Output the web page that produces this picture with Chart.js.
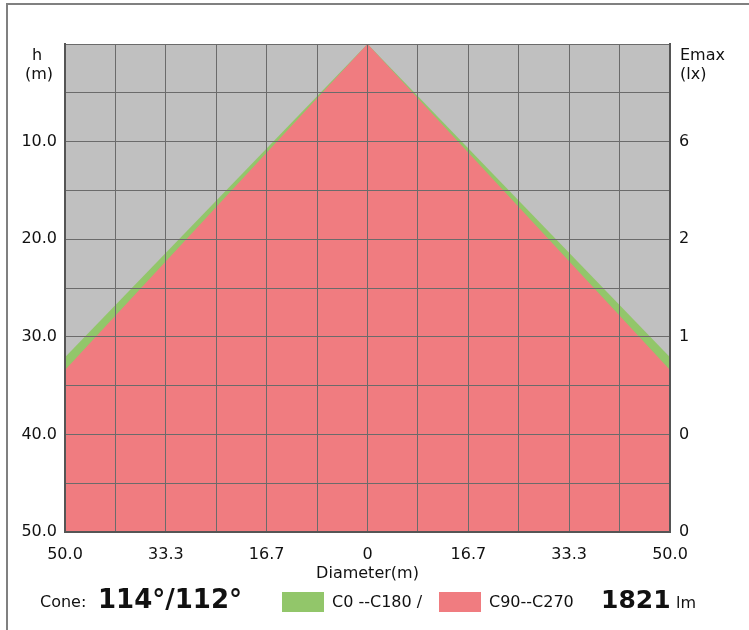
<!DOCTYPE html>
<html>
<head>
<meta charset="utf-8">
<script src="https://cdn.jsdelivr.net/npm/chart.js@4.4.0/dist/chart.umd.min.js"></script>
<style>
  html, body { margin: 0; padding: 0; background: #fff; overflow: hidden; }
  #wrap { position: relative; width: 749px; height: 630px; font-family: "DejaVu Sans", Verdana, sans-serif; color: #111; }
  #frame { position: absolute; left: 6px; top: 3px; width: 800px; height: 700px; border-left: 2px solid #808080; border-top: 2px solid #808080; }
  canvas { position: absolute; left: 0; top: 0; }
  .lg { position: absolute; white-space: nowrap; }
  .box { position: absolute; width: 42px; height: 20px; }
</style>
</head>
<body>
<div id="wrap">
  <div id="frame"></div>
  <canvas id="cone" width="749" height="630"></canvas>
  <span class="lg" style="left:40px; top:592px; font-size:16px; line-height:20px;">Cone:</span>
  <span class="lg" style="left:98px; top:584px; font-size:26px; line-height:30px; font-weight:bold;">114°/112°</span>
  <div class="box" style="left:282px; top:592px; background:#92c66a;"></div>
  <span class="lg" style="left:332px; top:592px; font-size:16px; line-height:20px;">C0 --C180 /</span>
  <div class="box" style="left:439px; top:592px; background:#f07c80;"></div>
  <span class="lg" style="left:489px; top:592px; font-size:16px; line-height:20px;">C90--C270</span>
  <span class="lg" style="left:601px; top:585px; font-size:25px; line-height:30px; font-weight:bold;">1821</span>
  <span class="lg" style="left:676px; top:593px; font-size:16px; line-height:20px;">lm</span>
</div>
<script>
// cone outline: half diameter (m) vs mounting height (m)
const diameterX = [-50, 0, 50];
const heightC0 = [32.1, 0, 32.1];
const heightC90 = [33.4, 0, 33.4];
const xTickLabels = ["50.0", "33.3", "16.7", "0", "16.7", "33.3", "50.0"];
const hTicks = [10, 20, 30, 40, 50];
const emaxLabels = ["6", "2", "1", "0", "0"];

const gridColor = "#6b6b6b";
const tickFont = { family: "DejaVu Sans", size: 16 };

function toPoints(ys) {
    return diameterX.map((x, i) => ({ x: x, y: ys[i] }));
}

const plotBackground = {
    id: "plotBackground",
    beforeDraw(chart) {
        const a = chart.chartArea;
        const c = chart.ctx;
        c.save();
        c.fillStyle = "#c0c0c0";
        c.fillRect(a.left, a.top, a.right - a.left, a.bottom - a.top);
        c.restore();
    }
};

const axisTexts = {
    id: "axisTexts",
    afterDraw(chart) {
        const a = chart.chartArea;
        const c = chart.ctx;
        c.save();
        c.fillStyle = "#111";
        c.font = "16px 'DejaVu Sans'";
        c.textBaseline = "middle";
        c.textAlign = "center";
        c.fillText("h", 37, 56);
        c.fillText("(m)", 39, 75);
        c.textAlign = "left";
        c.fillText("Emax", a.right + 10, 56);
        c.fillText("(lx)", a.right + 10, 75);
        c.textAlign = "center";
        c.fillText("Diameter(m)", (a.left + a.right) / 2, 574);
        c.restore();
    }
};

new Chart(document.getElementById("cone"), {
    type: "line",
    data: {
        datasets: [
            {
                label: "C90--C270",
                data: toPoints(heightC90),
                borderWidth: 0,
                pointRadius: 0,
                backgroundColor: "#f07c80",
                fill: { value: 50 },
                tension: 0
            },
            {
                label: "C0 --C180",
                data: toPoints(heightC0),
                borderWidth: 0,
                pointRadius: 0,
                backgroundColor: "#92c66a",
                fill: { value: 50 },
                tension: 0
            }
        ]
    },
    options: {
        responsive: false,
        animation: false,
        layout: { padding: { left: 0, right: 0, top: 44, bottom: 0 } },
        plugins: { legend: { display: false }, tooltip: { enabled: false } },
        scales: {
            x: {
                type: "linear",
                min: -50,
                max: 50,
                afterBuildTicks(scale) {
                    const t = [];
                    for (let i = 0; i <= 12; i++) t.push({ value: -50 + i * 100 / 12 });
                    scale.ticks = t;
                },
                afterFit(scale) { scale.height = 98; },
                grid: { color: gridColor, lineWidth: 1, drawTicks: false, z: 1 },
                border: { color: "#555", width: 2, z: 2 },
                ticks: {
                    autoSkip: false,
                    maxRotation: 0,
                    padding: 13,
                    color: "#111",
                    font: tickFont,
                    callback: (v, i) => (i % 2 === 0 ? xTickLabels[i / 2] : "")
                }
            },
            y: {
                type: "linear",
                position: "left",
                reverse: true,
                min: 0,
                max: 50,
                afterBuildTicks(scale) {
                    const t = [];
                    for (let v = 0; v <= 50; v += 5) t.push({ value: v });
                    scale.ticks = t;
                },
                afterFit(scale) { scale.width = 65; },
                grid: { color: gridColor, lineWidth: 1, drawTicks: false, z: 1 },
                border: { color: "#555", width: 2, z: 2 },
                ticks: {
                    autoSkip: false,
                    padding: 8,
                    color: "#111",
                    font: tickFont,
                    callback: (v) => (hTicks.includes(v) ? v.toFixed(1) : "")
                }
            },
            y2: {
                type: "linear",
                position: "right",
                reverse: true,
                min: 0,
                max: 50,
                afterBuildTicks(scale) {
                    scale.ticks = hTicks.map(v => ({ value: v }));
                },
                afterFit(scale) { scale.width = 79; },
                grid: { display: false, drawTicks: false },
                border: { color: "#555", width: 2, z: 2 },
                ticks: {
                    autoSkip: false,
                    padding: 9,
                    color: "#111",
                    font: tickFont,
                    callback: (v) => emaxLabels[hTicks.indexOf(v)]
                }
            }
        }
    },
    plugins: [plotBackground, axisTexts]
});
</script>
</body>
</html>
